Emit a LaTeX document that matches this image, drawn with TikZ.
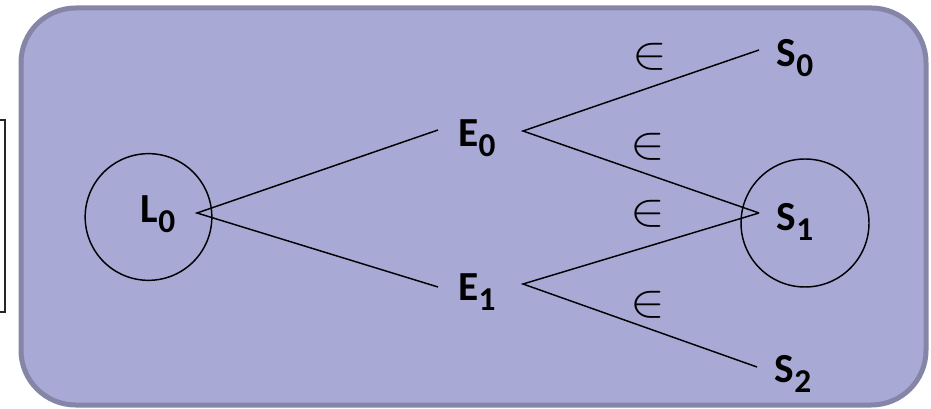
\documentclass[tikz,border=0pt]{standalone}
\usepackage{fontspec}
\setmainfont{Carlito}
\definecolor{boxfill}{RGB}{169,169,214}
\definecolor{boxedge}{RGB}{133,133,168}
\newcommand{\lblsub}[2]{#1\raisebox{-7.5pt}{\fontsize{25}{28}\selectfont #2}}
\newcommand{\bigin}{\scalebox{3.9}[3.5]{$\in$}}
\begin{document}
\begin{tikzpicture}[x=0.75pt,y=-0.75pt,
  lbl/.style={font=\bfseries\fontsize{31}{36}\selectfont, inner sep=0pt},
  elem/.style={inner sep=0pt},
  conn/.style={line width=1.1pt},
  ring/.style={draw, line width=1.1pt, circle, inner sep=0pt}]
\useasboundingbox (0,0) rectangle (931,409);
\draw[line width=0.9pt, black!85] (-10,120) rectangle (5,312);
\draw[fill=boxfill, draw=boxedge, line width=3.75pt, rounded corners=41pt] (21,8) rectangle (926,405);
% rings
\node[ring, minimum size=95pt] (cL) at (148.5,217) {};
\node[ring, minimum size=96pt] (cS) at (805,223) {};
% labels
\node[lbl] (L0) at (158,214) {\lblsub{L}{0}};
\node[lbl] (E0) at (477,138) {\lblsub{E}{0}};
\node[lbl] (E1) at (477,292) {\lblsub{E}{1}};
\node[lbl] (S0) at (795,58) {\lblsub{S}{0}};
\node[lbl] (S1) at (795,222) {\lblsub{S}{1}};
\node[lbl] (S2) at (793,374) {\lblsub{S}{2}};
% membership signs
\node[elem] (m1) at (650,57) {\bigin};
\node[elem] (m2) at (648,147) {\bigin};
\node[elem] (m3) at (648,214) {\bigin};
\node[elem] (m4) at (648,305) {\bigin};
% connector end points
\coordinate (L0j) at (197,213);
\coordinate (E0l) at (438,130);
\coordinate (E0r) at (523,131);
\coordinate (E1l) at (438,287);
\coordinate (E1r) at (523,284);
\coordinate (S0l) at (759,50);
\coordinate (S1l) at (759,213);
\coordinate (S2l) at (757,367);
\draw[conn] (E0l) -- (L0j) -- (E1l);
\draw[conn] (S0l) -- (E0r) -- (S1l);
\draw[conn] (S1l) -- (E1r) -- (S2l);
\end{tikzpicture}
\end{document}
